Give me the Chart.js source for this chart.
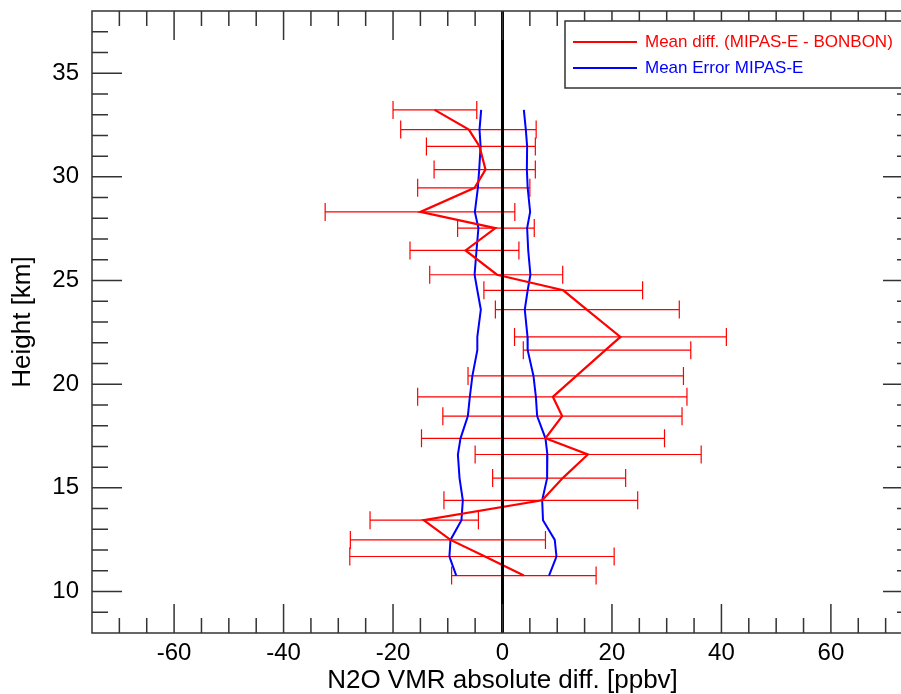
<!DOCTYPE html>
<html>
<head>
<meta charset="utf-8">
<script src="https://cdn.jsdelivr.net/npm/chart.js@4.4.0/dist/chart.umd.min.js"></script>
<style>
  html, body { margin: 0; padding: 0; background: #fff; overflow: hidden; }
  #wrap { width: 916px; height: 694px; }
</style>
</head>
<body>
<div id="wrap"><canvas id="n2oChart" width="916" height="694"></canvas></div>
<script>
// heights [km] of the comparison levels
const heights = [33.23, 32.28, 31.47, 30.35, 29.47, 28.31, 27.53, 26.45, 25.28, 24.53, 23.6, 22.28,
                 21.64, 20.4, 19.39, 18.46, 17.39, 16.61, 15.47, 14.4, 13.44, 12.49, 11.69, 10.77];
// mean diff (MIPAS-E - BONBON) [ppbv]
const meanDiff = [-12.4, -6.15, -4.2, -3.1, -5.1, -15.0, -1.3, -6.75, -1.0, 11.1, 15.4, 21.55,
                  18.8, 13.5, 9.2, 10.9, 7.85, 15.6, 11.0, 7.25, -14.4, -9.5, -3.2, 3.9];
// error bar ends
const diffLow = [-20.0, -18.6, -13.9, -12.5, -15.5, -32.4, -8.2, -16.9, -13.3, -3.4, -1.3, 2.2,
                 3.8, -6.3, -15.5, -10.9, -14.8, -5.0, -1.8, -10.7, -24.2, -27.8, -27.9, -9.3];
const diffHigh = [-4.7, 6.15, 6.0, 6.0, 5.0, 2.25, 5.8, 3.0, 11.0, 25.6, 32.3, 40.9,
                  34.4, 33.06, 33.7, 32.8, 29.6, 36.3, 22.5, 24.7, -4.4, 7.85, 20.4, 17.1];
// mean error MIPAS-E, left (-) and right (+) envelope
const errMinus = [-3.9, -4.2, -4.0, -4.26, -4.5, -5.05, -4.4, -4.75, -5.1, -4.6, -3.96, -4.6,
                  -4.6, -5.5, -5.97, -6.33, -7.67, -8.15, -7.85, -7.25, -7.5, -9.5, -9.7, -8.45];
const errPlus = [3.9, 4.26, 4.5, 4.45, 4.6, 5.05, 4.5, 4.7, 5.1, 4.6, 4.07, 4.57,
                 4.6, 5.66, 6.1, 6.33, 7.85, 8.2, 8.15, 7.25, 7.4, 9.55, 9.86, 8.5];

const xTicks = [-60, -40, -20, 0, 20, 40, 60];
const yTicks = [10, 15, 20, 25, 30, 35];

const RED = '#ff0000';
const BLUE = '#0000ff';
const FRAME = '#333333';

Chart.defaults.font.family = "'Liberation Sans', Arial, Helvetica, sans-serif";
Chart.defaults.color = '#000';

function toPoints(xs) {
    return heights.map((h, i) => ({ x: xs[i], y: h }));
}

// red horizontal error bars with caps
const errorBars = {
    id: 'errorBars',
    beforeDatasetsDraw(chart) {
        const { ctx, scales: { x, y } } = chart;
        ctx.save();
        ctx.strokeStyle = RED;
        ctx.lineWidth = 1.2;
        heights.forEach((h, i) => {
            const py = y.getPixelForValue(h);
            const x0 = x.getPixelForValue(diffLow[i]);
            const x1 = x.getPixelForValue(diffHigh[i]);
            ctx.beginPath();
            ctx.moveTo(x0, py); ctx.lineTo(x1, py);
            ctx.moveTo(x0, py - 9); ctx.lineTo(x0, py + 9);
            ctx.moveTo(x1, py - 9); ctx.lineTo(x1, py + 9);
            ctx.stroke();
        });
        ctx.restore();
    }
};

// black line at zero
const zeroLine = {
    id: 'zeroLine',
    afterDatasetsDraw(chart) {
        const { ctx, chartArea: a, scales: { x } } = chart;
        const px = x.getPixelForValue(0);
        ctx.save();
        ctx.strokeStyle = '#000';
        ctx.lineWidth = 3;
        ctx.beginPath();
        ctx.moveTo(px, a.top);
        ctx.lineTo(px, a.bottom);
        ctx.stroke();
        ctx.restore();
    }
};

// box frame with inward ticks on all four sides
const frameTicks = {
    id: 'frameTicks',
    afterDraw(chart) {
        const { ctx, chartArea: a, scales: { x, y } } = chart;
        ctx.save();
        ctx.strokeStyle = FRAME;
        ctx.lineWidth = 1.5;
        ctx.strokeRect(a.left, a.top, a.right - a.left, a.bottom - a.top);
        ctx.beginPath();
        for (let v = -70; v <= 70; v += 5) {
            const px = x.getPixelForValue(v);
            const len = xTicks.includes(v) ? 29 : 15;
            ctx.moveTo(px, a.bottom); ctx.lineTo(px, a.bottom - len);
            ctx.moveTo(px, a.top); ctx.lineTo(px, a.top + len);
        }
        for (let v = 9; v <= 37; v += 1) {
            const py = y.getPixelForValue(v);
            const len = yTicks.includes(v) ? 30 : 16;
            ctx.moveTo(a.left, py); ctx.lineTo(a.left + len, py);
            ctx.moveTo(a.right, py); ctx.lineTo(a.right - len, py);
        }
        ctx.stroke();
        ctx.restore();
    }
};

// boxed legend in the upper right corner
const boxLegend = {
    id: 'boxLegend',
    afterDraw(chart) {
        const { ctx } = chart;
        const items = [chart.data.datasets[0], chart.data.datasets[1]];
        const bx = 565, by = 21, bw = 342, bh = 67;
        ctx.save();
        ctx.fillStyle = '#fff';
        ctx.fillRect(bx, by, bw, bh);
        ctx.strokeStyle = FRAME;
        ctx.lineWidth = 1.5;
        ctx.strokeRect(bx, by, bw, bh);
        ctx.font = "17px 'Liberation Sans', Arial, sans-serif";
        ctx.textBaseline = 'middle';
        items.forEach((ds, i) => {
            const ly = by + 21 + i * 26;
            ctx.strokeStyle = ds.borderColor;
            ctx.lineWidth = 2;
            ctx.beginPath();
            ctx.moveTo(bx + 8, ly);
            ctx.lineTo(bx + 72, ly);
            ctx.stroke();
            ctx.fillStyle = ds.borderColor;
            ctx.fillText(ds.label, bx + 80, ly);
        });
        ctx.restore();
    }
};

const ctx = document.getElementById('n2oChart').getContext('2d');
const n2oChart = new Chart(ctx, {
    type: 'scatter',
    data: {
        datasets: [{
            label: 'Mean diff. (MIPAS-E - BONBON)',
            data: toPoints(meanDiff),
            borderColor: RED,
            borderWidth: 2.2,
            showLine: true,
            pointRadius: 0,
            tension: 0
        }, {
            label: 'Mean Error MIPAS-E',
            data: toPoints(errMinus),
            borderColor: BLUE,
            borderWidth: 2,
            showLine: true,
            pointRadius: 0,
            tension: 0
        }, {
            label: 'Mean Error MIPAS-E (+)',
            data: toPoints(errPlus),
            borderColor: BLUE,
            borderWidth: 2,
            showLine: true,
            pointRadius: 0,
            tension: 0
        }]
    },
    options: {
        responsive: false,
        animation: false,
        layout: { padding: { left: 0, top: 11, right: 3, bottom: 0 } },
        plugins: {
            legend: { display: false },
            tooltip: { enabled: false }
        },
        scales: {
            x: {
                type: 'linear',
                min: -75,
                max: 75,
                grid: { display: false, drawTicks: false },
                border: { display: false },
                afterBuildTicks: (scale) => { scale.ticks = xTicks.map(v => ({ value: v })); },
                afterFit: (scale) => {
                    scale.height = 61;
                    scale.paddingLeft = 0;
                    scale.paddingRight = 0;
                },
                ticks: { font: { size: 24 }, padding: 6, maxRotation: 0 },
                title: {
                    display: true,
                    text: 'N2O VMR absolute diff. [ppbv]',
                    font: { size: 26, lineHeight: 1 },
                    padding: { top: 0, bottom: 0 }
                }
            },
            y: {
                type: 'linear',
                min: 8,
                max: 38,
                grid: { display: false, drawTicks: false },
                border: { display: false },
                afterBuildTicks: (scale) => { scale.ticks = yTicks.map(v => ({ value: v })); },
                afterFit: (scale) => {
                    scale.width = 92;
                    scale.paddingTop = 0;
                    scale.paddingBottom = 0;
                },
                ticks: { font: { size: 24 }, padding: 13 },
                title: {
                    display: true,
                    text: 'Height [km]',
                    font: { size: 26, lineHeight: 1 },
                    padding: { top: 10, bottom: 0 }
                }
            }
        }
    },
    plugins: [errorBars, zeroLine, frameTicks, boxLegend]
});
</script>
</body>
</html>
